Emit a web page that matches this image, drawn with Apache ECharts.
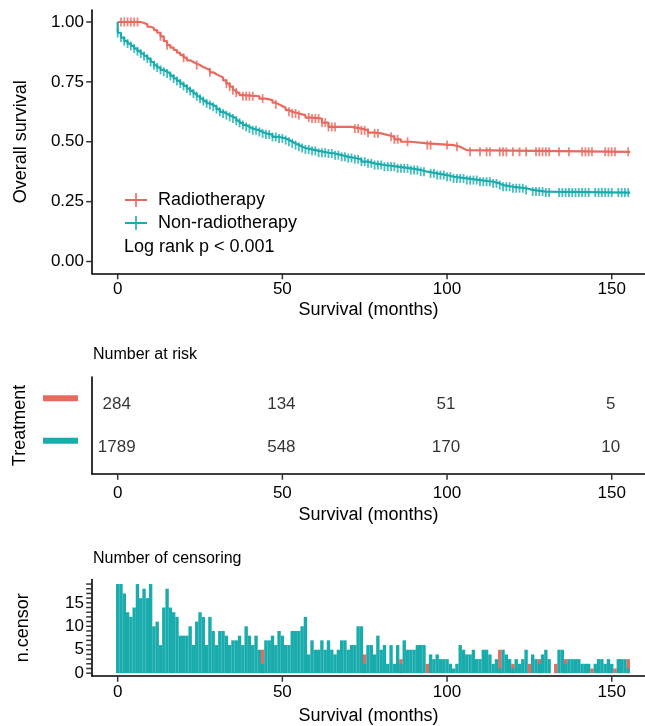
<!DOCTYPE html>
<html><head><meta charset="utf-8">
<script src="https://cdn.jsdelivr.net/npm/echarts@6/dist/echarts.min.js"></script>
<style>html,body{margin:0;padding:0;background:#fff}#c{width:645px;height:726px}</style>
</head><body><div id="c"></div>
<script>
// ---------- data ----------
const groups = ['Radiotherapy', 'Non-radiotherapy'];
const redCurve = [[0,1.0],[7,0.996],[8,0.99],[9,0.98],[10,0.975],[11,0.966],[12,0.955],[13,0.94],[14,0.92],[15,0.903],[16,0.893],[17,0.883],[18,0.872],[19,0.862],[20,0.851],[21,0.84],[22,0.833],[23,0.826],[24,0.82],[25,0.812],[26,0.806],[27,0.8],[28,0.79],[29,0.782],[30,0.775],[31,0.768],[32,0.756],[33,0.743],[34,0.73],[35,0.715],[36,0.705],[37,0.695],[38,0.69],[43,0.68],[45,0.674],[47,0.663],[48,0.656],[49,0.649],[50,0.642],[51,0.632],[52,0.625],[53,0.618],[55,0.611],[57,0.601],[59,0.597],[62,0.58],[64,0.562],[71,0.555],[74,0.548],[76,0.538],[78,0.535],[80,0.528],[82,0.521],[84,0.51],[86,0.5],[89,0.493],[94,0.486],[102,0.479],[104,0.472],[105,0.465],[106,0.458],[155.6,0.458]];
const tealCurve = [[0,1.0],[0,0.955],[1,0.935],[2,0.92],[3,0.91],[4,0.9],[5,0.889],[6,0.878],[7,0.868],[8,0.858],[9,0.847],[10,0.833],[11,0.819],[12,0.81],[13,0.8],[14,0.792],[15,0.785],[16,0.775],[17,0.764],[18,0.754],[19,0.743],[20,0.733],[21,0.722],[22,0.712],[23,0.701],[24,0.69],[25,0.68],[26,0.67],[27,0.66],[28,0.653],[29,0.646],[30,0.636],[31,0.625],[32,0.618],[33,0.611],[34,0.604],[35,0.597],[36,0.588],[37,0.579],[38,0.57],[39,0.562],[40,0.555],[41,0.548],[43,0.541],[44,0.535],[45,0.53],[47,0.52],[49,0.514],[51,0.507],[52,0.5],[53,0.493],[54,0.486],[55,0.479],[56,0.474],[57,0.468],[59,0.462],[61,0.454],[64,0.451],[66,0.444],[68,0.437],[70,0.432],[72,0.427],[74,0.417],[76,0.41],[78,0.403],[81,0.396],[85,0.389],[89,0.382],[92,0.375],[94,0.368],[97,0.361],[100,0.354],[102,0.347],[106,0.34],[110,0.333],[114,0.326],[116,0.319],[117,0.312],[120,0.306],[124,0.299],[126,0.292],[130,0.288],[155.6,0.288]];
const redCensorTimes = [1,2,3,4,5,6,13,15,20,24,28,33,34,35,36,38,39,40,41,44,48,52,53,54,55,58,59,60,61,62,63,64,65,66,72,73,74,75,76,78,79,83,84,85,88,94,95,100,103,107,110,112,113,116,117,118,120,122,124,127,128,129,130,131,134,137,141,142,143,144,148,149,150,151,155];

const riskTimes = [0, 50, 100, 150];
const riskRed = [284, 134, 51, 5];
const riskTeal = [1789, 548, 170, 10];

const censorTeal = [
 19,19,17,13,12,14,19,16,18,16,
 19,10,11,6,14,18,14,13,12,8,
 8,8,10,6,11,13,12,6,12,9,
 6,9,9,8,6,7,7,8,6,10,
 8,6,8,5,2,7,7,8,6,9,
 8,6,6,9,9,9,10,12,4,7,
 5,5,7,5,7,5,4,5,7,7,
 5,6,6,10,10,2,6,6,4,8,
 5,6,2,6,2,6,2,7,5,5,
 5,6,6,6,0,4,3,4,3,3,
 3,2,1,2,6,5,4,4,5,3,
 3,5,5,4,2,3,1,5,4,3,
 1,3,2,3,5,0,4,3,2,4,
 5,3,0,0,5,5,2,3,3,3,
 3,2,2,2,0,2,3,3,2,3,
 2,0,3,3,3,1];
const censorRed = [
 0,0,0,0,0,0,0,0,0,0,
 0,0,0,0,0,0,0,0,0,0,
 0,0,0,0,0,0,0,0,0,0,
 0,0,0,0,0,0,0,0,0,0,
 0,0,0,0,5,0,0,0,0,0,
 0,0,0,0,0,0,0,0,0,0,
 0,0,0,0,0,0,0,0,0,0,
 0,0,0,0,0,4,0,0,0,0,
 0,0,0,0,0,0,3,0,0,0,
 0,0,0,0,2,0,0,0,0,0,
 0,0,0,0,0,0,0,0,0,0,
 0,0,0,0,0,0,5,0,0,0,
 2,0,0,0,0,2,0,0,3,0,
 0,0,0,2,0,0,3,0,0,0,
 0,0,0,0,1,0,0,0,0,0,
 0,1,0,0,0,3];

const xTicks = [0, 50, 100, 150];
const survTicks = [0, 0.25, 0.5, 0.75, 1];
const censorLabelTicks = [0, 5, 10, 15];
const censorMinorTicks = [0,1,2,3,4,5,6,7,8,9,10,11,12,13,14,15,16,17,18,19];

// ---------- styles ----------
const RED = '#E8695E', TEAL = '#1AACAD';
const FONT = 'Liberation Sans, Arial, sans-serif';
const XMIN = -7.8, XMAX = 160.1;
const SURV_MIN = -0.05, SURV_MAX = 1.05;
const RISK_MIN = -0.5, RISK_MAX = 1.78;
const CEN_MIN = -0.6, CEN_MAX = 19.95;

function survAt(curve, t) {
  let s = curve[0][1];
  for (const [x, y] of curve) if (x <= t) s = y;
  return s;
}
const tealCensorTimes = censorTeal.map((v, i) => v > 0 ? i : null).filter(v => v !== null);

function axisLine() { return { show: true, onZero: false, lineStyle: { color: '#000', width: 1.6 } }; }
function labels(vals, margin, extra) {
  return Object.assign({ customValues: vals.slice(), margin: margin, color: '#000', fontSize: 17, fontFamily: FONT }, extra || {});
}
const nameStyle = { color: '#000', fontSize: 18, fontFamily: FONT };

function xAxisFor(grid, margin, nameGap) {
  return {
    type: 'value', gridIndex: grid, min: XMIN, max: XMAX,
    axisLine: axisLine(),
    axisTick: { show: false },
    axisLabel: labels(xTicks, margin),
    splitLine: { show: false },
    name: 'Survival (months)', nameLocation: 'middle', nameGap: nameGap, nameTextStyle: nameStyle
  };
}
// tick marks drawn as tiny scatter marks at the axis-tick values
function xTickSeries(axisIdx, yVal) {
  return {
    type: 'scatter', xAxisIndex: axisIdx, yAxisIndex: axisIdx, silent: true, clip: false, z: 6,
    data: xTicks.map(t => [t, yVal]), symbol: 'rect', symbolSize: [1.5, 5], symbolOffset: [0, 3.3],
    itemStyle: { color: '#000' }
  };
}
function yTickSeries(axisIdx, vals) {
  return {
    type: 'scatter', xAxisIndex: axisIdx, yAxisIndex: axisIdx, silent: true, clip: false, z: 6,
    data: vals.map(v => [XMIN, v]), symbol: 'rect', symbolSize: [5, 1.5], symbolOffset: [-3.3, 0],
    itemStyle: { color: '#000' }
  };
}

const chart = echarts.init(document.getElementById('c'), null, { renderer: 'canvas' });
chart.setOption({
  animation: false,
  backgroundColor: '#fff',
  textStyle: { fontFamily: FONT },
  title: [
    { text: 'Number at risk', left: 88, top: 342, textStyle: { fontSize: 16, fontWeight: 'normal', color: '#000', fontFamily: FONT } },
    { text: 'Number of censoring', left: 88, top: 546, textStyle: { fontSize: 16, fontWeight: 'normal', color: '#000', fontFamily: FONT } },
    { text: 'Log rank p < 0.001', left: 119, top: 233, textStyle: { fontSize: 18, fontWeight: 'normal', color: '#000', fontFamily: FONT } }
  ],
  legend: {
    data: groups, orient: 'vertical', left: 120, top: 186,
    itemWidth: 22, itemHeight: 14, itemGap: 5,
    icon: 'path://M0,6.1 L22,6.1 L22,7.9 L0,7.9 Z M10.2,0 L11.8,0 L11.8,14 L10.2,14 Z',
    textStyle: { fontSize: 18, color: '#000', fontFamily: FONT, padding: [0, 0, 0, 6], lineHeight: 16 }
  },
  grid: [
    { left: 92, right: 0, top: 10, height: 263.5 },
    { left: 92, right: 0, top: 377, height: 97 },
    { left: 92, right: 0, top: 579.6, height: 98.3 }
  ],
  xAxis: [
    xAxisFor(0, 7, 28),
    xAxisFor(1, 11, 32),
    xAxisFor(2, 8, 31)
  ],
  yAxis: [
    {
      type: 'value', gridIndex: 0, min: SURV_MIN, max: SURV_MAX,
      axisLine: axisLine(),
      axisTick: { show: false },
      axisLabel: labels(survTicks, 8, { formatter: v => v.toFixed(2) }),
      splitLine: { show: false },
      name: 'Overall survival', nameLocation: 'middle', nameGap: 62, nameTextStyle: nameStyle
    },
    {
      type: 'value', gridIndex: 1, min: RISK_MIN, max: RISK_MAX, inverse: true,
      axisLine: axisLine(),
      axisTick: { show: false },
      axisLabel: {
        customValues: [0, 1], margin: 14,
        formatter: v => v === 0 ? '{r|}' : '{t|}',
        rich: {
          r: { width: 35, height: 6, backgroundColor: RED },
          t: { width: 35, height: 6, backgroundColor: TEAL }
        }
      },
      splitLine: { show: false },
      name: 'Treatment', nameLocation: 'middle', nameGap: 63, nameTextStyle: nameStyle
    },
    {
      type: 'value', gridIndex: 2, min: CEN_MIN, max: CEN_MAX,
      axisLine: axisLine(),
      axisTick: { show: false },
      axisLabel: labels(censorLabelTicks, 8),
      splitLine: { show: false },
      name: 'n.censor', nameLocation: 'middle', nameGap: 60, nameTextStyle: nameStyle
    }
  ],
  series: [
    {
      name: groups[0], type: 'line', step: 'end', xAxisIndex: 0, yAxisIndex: 0,
      data: redCurve, showSymbol: false, symbol: 'none',
      itemStyle: { color: RED }, lineStyle: { color: RED, width: 2.2 }, z: 3
    },
    {
      name: groups[1], type: 'line', step: 'end', xAxisIndex: 0, yAxisIndex: 0,
      data: tealCurve, showSymbol: false, symbol: 'none',
      itemStyle: { color: TEAL }, lineStyle: { color: TEAL, width: 2.2 }, z: 3
    },
    {
      name: 'rc', type: 'scatter', xAxisIndex: 0, yAxisIndex: 0,
      data: redCensorTimes.map(t => [t, survAt(redCurve, t)]),
      symbol: 'rect', symbolSize: [1.8, 9], itemStyle: { color: RED }, z: 4
    },
    {
      name: 'tc', type: 'scatter', xAxisIndex: 0, yAxisIndex: 0,
      data: tealCensorTimes.map(t => [t, survAt(tealCurve, t)]),
      symbol: 'rect', symbolSize: [1.8, 9], itemStyle: { color: TEAL }, z: 4
    },
    {
      name: 'risk', type: 'scatter', xAxisIndex: 1, yAxisIndex: 1,
      data: riskTimes.map((t, i) => [t, 0, riskRed[i]]).concat(riskTimes.map((t, i) => [t, 1, riskTeal[i]])),
      symbolSize: 0,
      label: { show: true, position: 'inside', offset: [-1, 6], formatter: p => String(p.value[2]), fontSize: 17, color: '#000', fontFamily: FONT }
    },
    {
      name: 'cr', type: 'bar', xAxisIndex: 2, yAxisIndex: 2,
      data: censorRed.map((v, i) => [i, v]), barWidth: 3.4, barGap: '-100%',
      itemStyle: { color: RED }
    },
    {
      name: 'ct', type: 'bar', xAxisIndex: 2, yAxisIndex: 2,
      data: censorTeal.map((v, i) => [i, v]), barWidth: 3.4, barGap: '-100%',
      itemStyle: { color: TEAL }
    },
    xTickSeries(0, SURV_MIN),
    xTickSeries(1, RISK_MAX),
    xTickSeries(2, CEN_MIN),
    yTickSeries(0, survTicks),
    yTickSeries(2, censorMinorTicks)
  ]
});
</script>
</body></html>
